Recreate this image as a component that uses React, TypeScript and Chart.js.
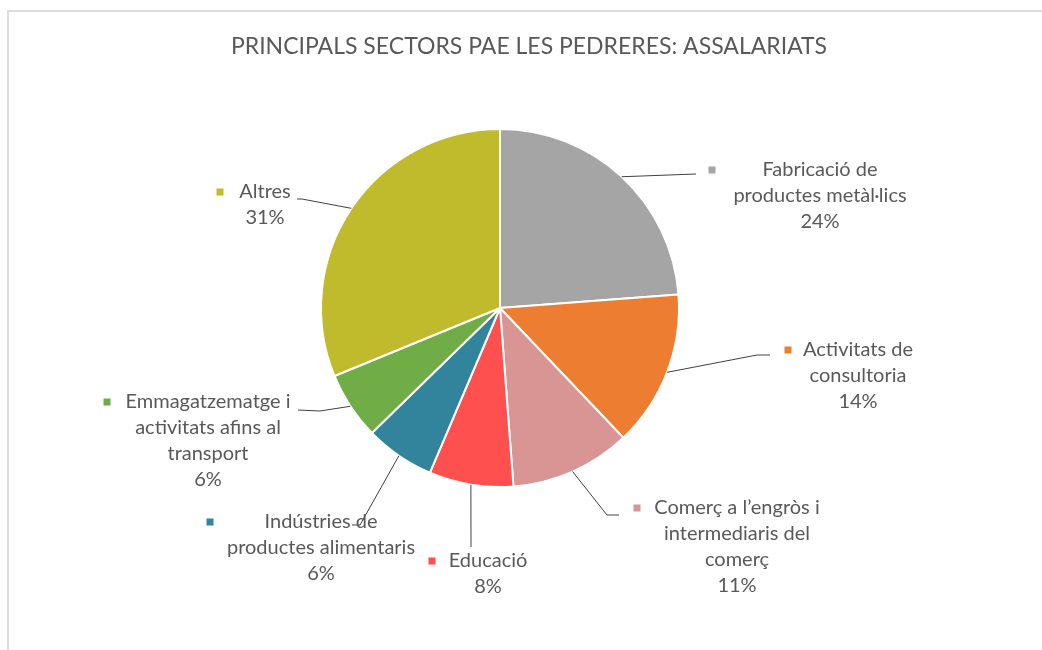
import React, { useEffect, useRef } from 'react';
import { Chart, registerables } from 'chart.js';

Chart.register(...registerables);

// ---------- data ----------
const TITLE = 'PRINCIPALS SECTORS PAE LES PEDRERES: ASSALARIATS';
const CATEGORIES = [
  'Fabricació de productes metàl·lics',
  'Activitats de consultoria',
  'Comerç a l’engròs i intermediaris del comerç',
  'Educació',
  'Indústries de productes alimentaris',
  'Emmagatzematge i activitats afins al transport',
  'Altres',
];
const LABEL_LINES = [
  ['Fabricació de', 'productes metàl·lics'],
  ['Activitats de', 'consultoria'],
  ['Comerç a l’engròs i', 'intermediaris del', 'comerç'],
  ['Educació'],
  ['Indústries de', 'productes alimentaris'],
  ['Emmagatzematge i', 'activitats afins al', 'transport'],
  ['Altres'],
];
const VALUES = [23.8, 14.1, 10.9, 7.6, 6.3, 6.1, 31.2];
const COLORS = ['#A5A5A5', '#ED7D31', '#D99594', '#FF5050', '#31849B', '#70AD47', '#C0BB2C'];

// ---------- label layout (offsets from pie centre, px) ----------
const LABEL_LAYOUT = [
  { textX: 320, textY: -138, markerX: 212, path: [[196, -134]] },
  { textX: 358, textY: 42, markerX: 288, path: [[257, 47], [270, 47]] },
  { textX: 237, textY: 200, markerX: 137, path: [[107, 207], [119, 207]] },
  { textX: -12, textY: 253, markerX: -68, path: [[-29, 239]] },
  { textX: -179, textY: 214, markerX: -290, path: [[-140, 217], [-148, 217]] },
  { textX: -292, textY: 94, markerX: -393, path: [[-180, 103], [-202, 102]] },
  { textX: -235, textY: -116, markerX: -280, path: [[-198, -109], [-203, -109]] },
];

const FONT = 'Lato';
const TEXT_COLOR = '#595959';

const labelPlugin = {
  id: 'excelLabels',
  afterDraw(chart: any) {
    const ctx = chart.ctx;
    const meta = chart.getDatasetMeta(0);
    const total = VALUES.reduce((a, b) => a + b, 0);
    ctx.save();
    // title
    ctx.fillStyle = TEXT_COLOR;
    ctx.font = `23px ${FONT}`;
    ctx.textAlign = 'center';
    ctx.textBaseline = 'middle';
    ctx.fillText(TITLE, 529, 47);

    meta.data.forEach((arc: any, i: number) => {
      const { x, y, startAngle, endAngle, outerRadius } = arc.getProps(
        ['x', 'y', 'startAngle', 'endAngle', 'outerRadius'],
        true
      );
      const mid = (startAngle + endAngle) / 2;
      const sx = x + Math.cos(mid) * outerRadius;
      const sy = y + Math.sin(mid) * outerRadius;
      const lay = LABEL_LAYOUT[i];
      // leader line
      ctx.strokeStyle = '#404040';
      ctx.lineWidth = 1;
      ctx.beginPath();
      ctx.moveTo(sx, sy);
      lay.path.forEach((p) => ctx.lineTo(x + p[0], y + p[1]));
      ctx.stroke();
      // marker
      ctx.fillStyle = COLORS[i];
      ctx.fillRect(x + lay.markerX - 3.5, y + lay.textY - 3.5, 7, 7);
      // text
      ctx.fillStyle = TEXT_COLOR;
      ctx.font = `20px ${FONT}`;
      ctx.textAlign = 'center';
      ctx.textBaseline = 'middle';
      const lines = [...LABEL_LINES[i], Math.round((VALUES[i] / total) * 100) + '%'];
      lines.forEach((t, k) => ctx.fillText(t, x + lay.textX, y + lay.textY + k * 26));
    });
    ctx.restore();
  },
};

export default function App() {
  const ref = useRef<HTMLCanvasElement | null>(null);
  useEffect(() => {
    if (!ref.current) return;
    const chart = new Chart(ref.current, {
      type: 'pie',
      data: {
        labels: CATEGORIES,
        datasets: [
          {
            data: VALUES,
            backgroundColor: COLORS,
            borderColor: '#FFFFFF',
            borderWidth: 2,
          },
        ],
      },
      options: {
        responsive: false,
        animation: false,
        layout: { padding: { left: 320, right: 362, top: 128, bottom: 162 } },
        plugins: {
          legend: { display: false },
          title: { display: false },
          tooltip: { enabled: false },
        },
      },
      plugins: [labelPlugin],
    });
    return () => chart.destroy();
  }, []);

  return (
    <div
      style={{
        position: 'fixed',
        left: 0,
        top: 0,
        width: 1042,
        height: 650,
        overflow: 'hidden',
        background: '#FFFFFF',
      }}
    >
      <div
        style={{
          position: 'absolute',
          left: 7,
          top: 10,
          width: 1100,
          height: 700,
          border: '2px solid #DDDDDD',
        }}
      />
      <canvas
        ref={ref}
        width={1042}
        height={650}
        style={{ position: 'absolute', left: 0, top: 0, width: 1042, height: 650 }}
      />
    </div>
  );
}
